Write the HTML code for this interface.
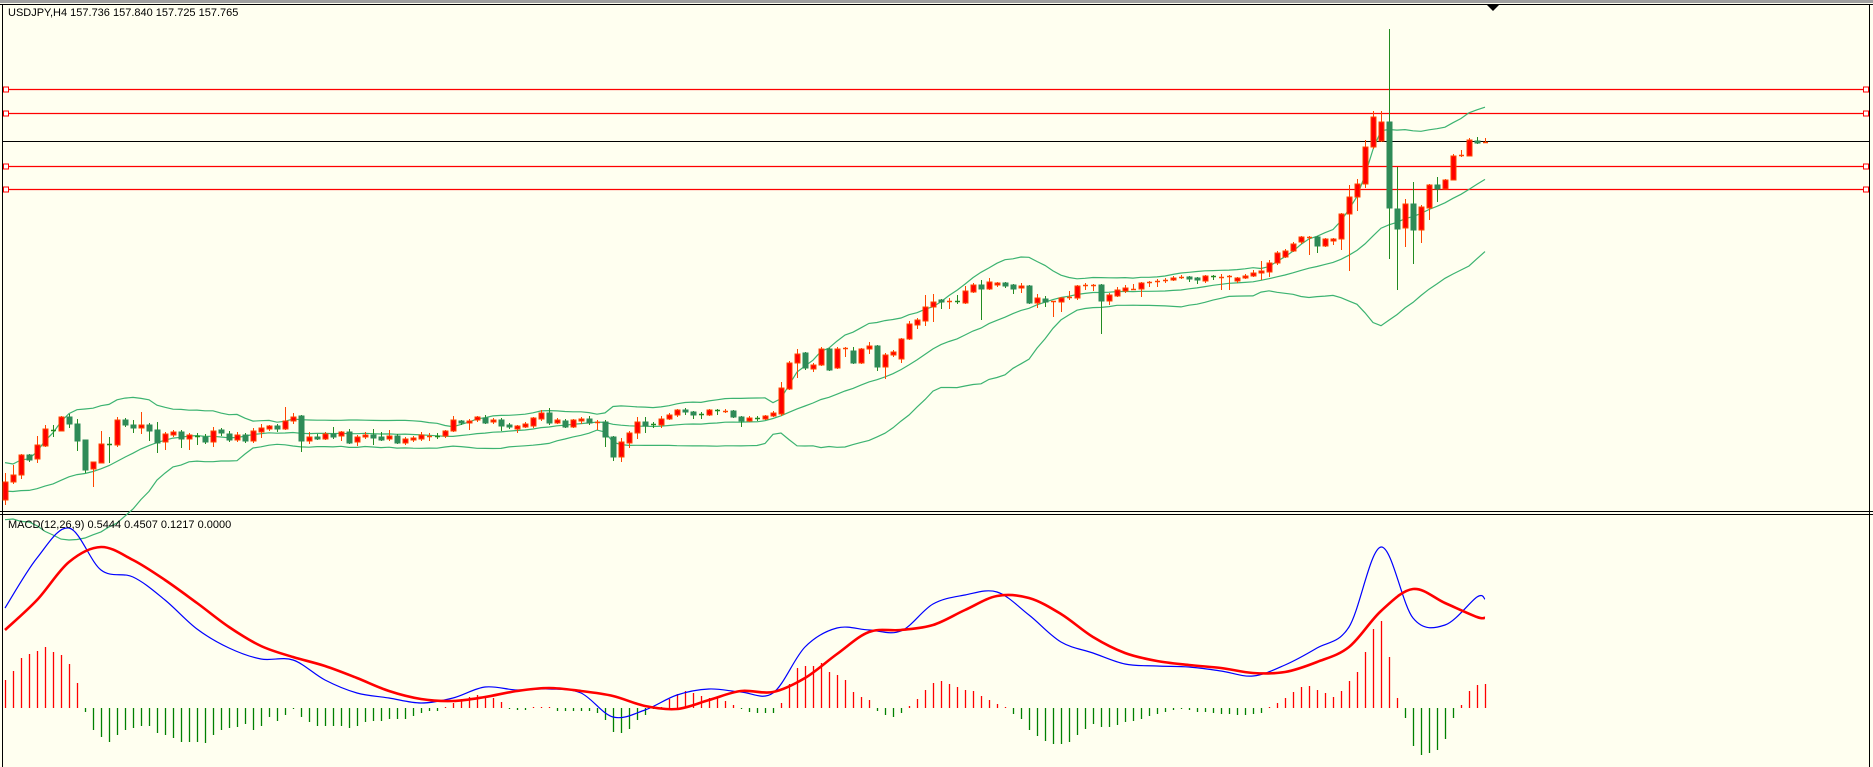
<!DOCTYPE html>
<html><head><meta charset="utf-8"><title>USDJPY H4</title>
<style>
html,body{margin:0;padding:0;background:#fffff0;}
svg{display:block;font-family:Tahoma,"Liberation Sans",sans-serif;}
</style></head>
<body>
<svg id="chart" width="1873" height="767" viewBox="0 0 1873 767" xmlns="http://www.w3.org/2000/svg">
<rect x="0" y="0" width="1873" height="767" fill="#fffff0"/>
<rect x="0" y="0" width="1873" height="3" fill="#a0a0a0"/>
<line x1="0" y1="4.5" x2="1873" y2="4.5" stroke="#000" stroke-width="1"/>
<line x1="2.5" y1="4" x2="2.5" y2="767" stroke="#000" stroke-width="1"/>
<line x1="1869.5" y1="4" x2="1869.5" y2="767" stroke="#000" stroke-width="1"/>
<line x1="0" y1="511.5" x2="1873" y2="511.5" stroke="#000" stroke-width="1"/>
<line x1="0" y1="514.5" x2="1873" y2="514.5" stroke="#000" stroke-width="1"/>
<g id="levels"></g>
<g id="bands"></g>
<g id="candles"></g>
<g id="macd"></g>
<polygon points="1487,5 1499,5 1493,11" fill="#000"/>
<text x="8" y="16" font-size="11" fill="#000">USDJPY,H4  157.736 157.840 157.725 157.765</text>
<text x="8" y="528" font-size="11" fill="#000">MACD(12,26,9) 0.5444 0.4507 0.1217 0.0000</text>
</svg>
<script>
const opens = [155.00,155.18,155.25,155.45,155.41,155.54,155.70,155.69,155.83,155.76,155.60,155.31,155.37,155.56,155.55,155.80,155.75,155.72,155.75,155.70,155.58,155.65,155.68,155.61,155.64,155.63,155.58,155.70,155.66,155.60,155.65,155.59,155.68,155.71,155.74,155.71,155.79,155.84,155.59,155.63,155.61,155.66,155.64,155.68,155.58,155.63,155.65,155.63,155.61,155.64,155.57,155.60,155.61,155.64,155.64,155.64,155.69,155.79,155.77,155.80,155.82,155.78,155.80,155.75,155.71,155.73,155.74,155.81,155.87,155.77,155.79,155.73,155.79,155.81,155.77,155.78,155.63,155.43,155.57,155.67,155.78,155.76,155.75,155.81,155.85,155.90,155.88,155.86,155.85,155.90,155.89,155.89,155.83,155.79,155.82,155.81,155.84,155.86,156.11,156.37,156.47,156.31,156.35,156.51,156.32,156.51,156.49,156.37,156.51,156.54,156.33,156.45,156.41,156.61,156.75,156.79,156.93,157.00,156.99,156.99,156.97,157.08,157.15,157.11,157.15,157.17,157.15,157.12,157.14,156.97,157.01,156.99,156.98,157.02,157.02,157.14,157.14,157.15,156.99,157.04,157.09,157.11,157.11,157.17,157.18,157.19,157.20,157.22,157.23,157.22,157.19,157.24,157.23,157.24,157.19,157.22,157.24,157.27,157.28,157.37,157.43,157.49,157.58,157.62,157.63,157.54,157.59,157.61,157.86,158.03,158.16,158.53,158.59,158.78,157.91,157.72,157.96,157.70,157.92,158.15,158.11,158.20,158.44,158.44,158.59,158.57];
const closes = [155.18,155.25,155.45,155.40,155.55,155.71,155.69,155.83,155.76,155.59,155.30,155.38,155.56,155.55,155.80,155.75,155.72,155.75,155.69,155.57,155.66,155.68,155.61,155.65,155.63,155.58,155.69,155.67,155.60,155.65,155.59,155.69,155.72,155.74,155.71,155.79,155.83,155.59,155.63,155.61,155.66,155.63,155.68,155.57,155.63,155.65,155.62,155.60,155.64,155.57,155.61,155.62,155.65,155.64,155.63,155.69,155.80,155.77,155.79,155.83,155.77,155.80,155.74,155.73,155.74,155.76,155.82,155.87,155.77,155.80,155.73,155.80,155.81,155.77,155.78,155.63,155.43,155.58,155.67,155.78,155.74,155.75,155.81,155.85,155.90,155.88,155.85,155.85,155.90,155.89,155.89,155.83,155.79,155.82,155.81,155.84,155.87,156.12,156.37,156.46,156.32,156.35,156.51,156.30,156.51,156.52,156.37,156.51,156.54,156.33,156.45,156.48,156.61,156.76,156.80,156.93,156.98,156.98,156.99,156.98,157.09,157.15,157.11,157.18,157.17,157.14,157.11,157.14,156.97,157.02,156.98,156.99,157.02,157.03,157.14,157.15,157.15,156.99,157.05,157.10,157.12,157.11,157.17,157.18,157.19,157.20,157.22,157.23,157.21,157.20,157.24,157.23,157.23,157.24,157.22,157.24,157.27,157.29,157.37,157.47,157.49,157.56,157.63,157.63,157.54,157.61,157.61,157.86,158.03,158.16,158.53,158.83,158.78,157.92,157.71,157.96,157.70,157.93,158.15,158.11,158.20,158.44,158.45,158.60,158.57,158.58];
const highs = [155.27,155.35,155.46,155.46,155.64,155.75,155.75,155.84,155.86,155.81,155.60,155.38,155.69,155.63,155.83,155.82,155.80,155.88,155.77,155.78,155.68,155.70,155.70,155.67,155.67,155.66,155.73,155.72,155.69,155.68,155.67,155.72,155.76,155.75,155.76,155.93,155.87,155.85,155.68,155.66,155.68,155.73,155.69,155.71,155.65,155.68,155.71,155.68,155.70,155.66,155.63,155.64,155.68,155.67,155.67,155.70,155.84,155.80,155.81,155.84,155.85,155.82,155.82,155.77,155.75,155.78,155.83,155.90,155.92,155.82,155.81,155.81,155.83,155.84,155.80,155.80,155.64,155.62,155.69,155.83,155.83,155.78,155.84,155.87,155.91,155.92,155.89,155.88,155.91,155.91,155.91,155.90,155.84,155.84,155.84,155.85,155.89,156.18,156.39,156.51,156.48,156.37,156.53,156.52,156.53,156.53,156.53,156.52,156.58,156.55,156.47,156.50,156.62,156.79,156.82,157.05,157.06,157.01,157.02,157.05,157.14,157.17,157.20,157.22,157.18,157.18,157.16,157.17,157.15,157.06,157.04,156.99,157.03,157.09,157.15,157.17,157.16,157.16,157.07,157.13,157.15,157.16,157.18,157.19,157.21,157.22,157.24,157.25,157.24,157.23,157.25,157.25,157.26,157.25,157.23,157.26,157.30,157.39,157.40,157.49,157.51,157.58,157.64,157.64,157.64,157.62,157.62,157.87,158.15,158.21,158.60,158.89,158.89,159.71,158.33,158.01,158.18,157.95,158.16,158.23,158.21,158.46,158.50,158.62,158.63,158.62];
const lows = [154.95,155.16,155.21,155.38,155.37,155.53,155.63,155.69,155.72,155.49,155.27,155.13,155.37,155.37,155.53,155.73,155.67,155.66,155.59,155.47,155.50,155.63,155.52,155.50,155.55,155.56,155.53,155.64,155.58,155.58,155.57,155.57,155.62,155.69,155.68,155.70,155.76,155.48,155.56,155.60,155.60,155.61,155.59,155.56,155.54,155.61,155.55,155.59,155.59,155.56,155.55,155.58,155.59,155.59,155.61,155.62,155.68,155.75,155.70,155.78,155.76,155.76,155.69,155.71,155.67,155.72,155.72,155.79,155.75,155.76,155.72,155.72,155.76,155.75,155.70,155.53,155.39,155.38,155.52,155.61,155.67,155.72,155.72,155.80,155.83,155.85,155.81,155.81,155.84,155.85,155.87,155.82,155.73,155.78,155.79,155.80,155.83,155.84,156.10,156.22,156.30,156.28,156.34,156.29,156.31,156.43,156.36,156.36,156.46,156.29,156.21,156.43,156.37,156.60,156.71,156.74,156.78,156.91,156.91,156.96,156.96,157.07,156.80,157.10,157.13,157.12,157.06,157.07,156.96,156.92,156.93,156.83,156.88,157.00,157.00,157.10,157.09,156.66,156.95,157.03,157.07,157.10,157.03,157.13,157.13,157.17,157.19,157.21,157.18,157.16,157.17,157.20,157.10,157.10,157.17,157.21,157.23,157.20,157.23,157.35,157.42,157.48,157.56,157.45,157.47,157.53,157.55,157.50,157.29,157.89,158.12,158.51,158.58,157.41,157.10,157.53,157.36,157.57,157.80,157.98,158.15,158.34,158.43,158.52,158.56];
// closes of the 19 bars before the visible window (needed for the 20-period bands)
const priorCloses = [155.32,155.28,155.35,155.22,155.18,155.25,155.12,155.05,155.15,155.08,154.98,155.02,154.92,154.96,154.88,154.94,154.90,155.02,154.97];
const levelPrices = [159.11,158.87,158.34,158.11];
// MACD lines sampled every 4 bars (last sample = last bar)
const macdMain = [0.50,0.75,0.90,0.69,0.655,0.54,0.395,0.30,0.245,0.24,0.14,0.075,0.05,0.025,0.05,0.105,0.09,0.095,0.075,-0.045,-0.01,0.065,0.095,0.08,0.075,0.305,0.40,0.39,0.385,0.52,0.565,0.58,0.465,0.33,0.275,0.22,0.21,0.205,0.185,0.16,0.215,0.30,0.405,0.805,0.45,0.415,0.555,0.544];
const macdSignal = [0.39,0.54,0.73,0.805,0.74,0.64,0.525,0.405,0.31,0.255,0.21,0.15,0.085,0.045,0.035,0.055,0.085,0.10,0.085,0.06,0.01,-0.005,0.04,0.085,0.08,0.15,0.27,0.38,0.39,0.415,0.49,0.56,0.55,0.47,0.355,0.275,0.235,0.215,0.20,0.175,0.18,0.23,0.305,0.485,0.595,0.525,0.455,0.451];
const macdHist = [0.14,0.185,0.25,0.27,0.285,0.305,0.28,0.265,0.22,0.125,
-0.02,-0.11,-0.145,-0.17,-0.135,-0.11,-0.1,-0.09,-0.09,-0.125,
-0.135,-0.15,-0.17,-0.17,-0.17,-0.175,-0.135,-0.11,-0.1,-0.095,
-0.08,-0.11,-0.09,-0.045,-0.065,-0.035,-0.005,-0.045,-0.07,-0.09,
-0.09,-0.09,-0.09,-0.1,-0.09,-0.07,-0.065,-0.065,-0.055,-0.055,
-0.055,-0.04,-0.025,-0.015,-0.015,0,0.025,0.045,0.055,0.065,
0.055,0.05,0.03,-0.005,-0.01,-0.01,0.005,0,0,-0.015,
-0.015,-0.015,-0.015,-0.015,-0.025,-0.06,-0.12,-0.125,-0.105,-0.06,
-0.035,-0.005,0,0.045,0.07,0.085,0.075,0.06,0.05,0.055,
0.035,0.015,-0.005,-0.02,-0.025,-0.025,-0.025,0.025,0.12,0.2,
0.21,0.21,0.225,0.18,0.165,0.14,0.08,0.055,0.04,-0.015,
-0.035,-0.045,-0.025,0.01,0.045,0.09,0.125,0.135,0.12,0.105,
0.09,0.085,0.06,0.04,0.02,0,-0.03,-0.055,-0.11,-0.14,
-0.165,-0.18,-0.18,-0.17,-0.135,-0.105,-0.08,-0.095,-0.095,-0.085,
-0.07,-0.065,-0.055,-0.04,-0.03,-0.02,-0.01,-0.005,-0.01,-0.02,
-0.02,-0.025,-0.03,-0.03,-0.035,-0.035,-0.03,-0.025,0,0.025,
0.05,0.08,0.105,0.11,0.09,0.075,0.055,0.085,0.135,0.18,
0.28,0.395,0.435,0.255,0.05,-0.05,-0.19,-0.235,-0.225,-0.21,
-0.155,-0.05,0.015,0.085,0.115,0.12];

const NS = 'http://www.w3.org/2000/svg';
const BAR_X0 = 5, BAR_STEP = 8, PRICE_TOP = 160, PX_PER_PRICE = 100;
const MACD_ZERO = 708, PX_PER_MACD = 200, MACD_STEP = 4;
function xScale(i){ return BAR_X0 + BAR_STEP * i; }
function yScale(p){ return (PRICE_TOP - p) * PX_PER_PRICE; }
function yMacd(v){ return MACD_ZERO - v * PX_PER_MACD; }
function mk(tag, attrs, parent){
  const el = document.createElementNS(NS, tag);
  for (const k in attrs) el.setAttribute(k, attrs[k]);
  parent.appendChild(el);
  return el;
}
const gLevels = document.getElementById('levels');
levelPrices.forEach((p, k) => {
  const y = Math.round(yScale(p)) + 0.5;
  const ln = mk('line', {x1: 3, x2: 1869, y1: y, y2: y, stroke: '#ff0000', 'stroke-width': 1.3}, gLevels);
  
  
  [6, 1866].forEach(cx => {
    const sq = mk('rect', {x: cx - 2.5, y: y - 2.5, width: 5, height: 5, fill: '#ffffff', stroke: '#ff0000', 'stroke-width': 1}, gLevels);
    
    
  });
});
const lastClose = closes[closes.length - 1];
const by = Math.round(yScale(lastClose)) - 0.5;
const bid = mk('line', {x1: 3, x2: 1869, y1: by, y2: by, stroke: '#000', 'stroke-width': 1}, gLevels);



// Bollinger bands (20, 2)
const allCloses = priorCloses.concat(closes);
const up = [], mid = [], lo = [];
for (let i = 0; i < closes.length; i++){
  const end = i + priorCloses.length;
  const start = Math.max(0, end - 19);
  const w = allCloses.slice(start, end + 1);
  const m = w.reduce((a, b) => a + b, 0) / w.length;
  const sd = Math.sqrt(w.reduce((a, b) => a + (b - m) * (b - m), 0) / w.length);
  mid.push(m); up.push(m + 2 * sd); lo.push(m - 2 * sd);
}
const gBands = document.getElementById('bands');
[[up, 'bb-upper-band'], [mid, 'bb-middle-band'], [lo, 'bb-lower-band']].forEach(([arr, nm]) => {
  const pts = arr.map((v, i) => xScale(i) + ',' + yScale(v).toFixed(1)).join(' ');
  const pl = mk('polyline', {points: pts, fill: 'none', stroke: '#3cb371', 'stroke-width': 1.2}, gBands);
  
  
});

// Candles
const gC = document.getElementById('candles');
for (let i = 0; i < closes.length; i++){
  const x = xScale(i);
  const o = isFinite(opens[i]) ? opens[i] : closes[i];
  const c = closes[i];
  const hi = isFinite(highs[i]) ? Math.max(highs[i], o, c) : Math.max(o, c);
  const lw = isFinite(lows[i]) ? Math.min(lows[i], o, c) : Math.min(o, c);
  const bull = c >= o;
  const wickCol = bull ? '#ff4500' : '#228b22';
  const g = mk('g', {}, gC);
  
  
  mk('line', {x1: x + 0.5, x2: x + 0.5, y1: yScale(hi), y2: yScale(lw), stroke: wickCol, 'stroke-width': 1}, g);
  const yt = yScale(Math.max(o, c)), yb = yScale(Math.min(o, c));
  if (yb - yt < 1.5){
    mk('line', {x1: x - 2, x2: x + 3, y1: Math.round(yt) + 0.5, y2: Math.round(yt) + 0.5, stroke: wickCol, 'stroke-width': 1.5}, g);
  } else {
    mk('rect', {x: x - 2, y: yt, width: 5, height: yb - yt, fill: bull ? '#ff0000' : '#2e8b57', stroke: bull ? '#ff4500' : '#2e8b57', 'stroke-width': 1}, g);
  }
}

// MACD
const gM = document.getElementById('macd');
const last = closes.length - 1;
for (let i = 0; i < macdHist.length; i++){
  const v = macdHist[i];
  const x = xScale(i) + 0.5;
  const bar = mk('line', {x1: x, x2: x, y1: MACD_ZERO, y2: yMacd(v) + (v === 0 ? -1 : 0), stroke: v >= 0 ? '#ff0000' : '#008000', 'stroke-width': 1.3}, gM);
  
  
}
function lineFrom(arr, color, w, nm){
  const P = arr.map((v, j) => [xScale(Math.min(j * MACD_STEP, last)), yMacd(v)]);
  let d = 'M' + P[0][0] + ',' + P[0][1].toFixed(1);
  for (let k = 0; k < P.length - 1; k++){
    const p0 = P[Math.max(0, k - 1)], p1 = P[k], p2 = P[k + 1], p3 = P[Math.min(P.length - 1, k + 2)];
    const c1x = p1[0] + (p2[0] - p0[0]) / 6, c1y = p1[1] + (p2[1] - p0[1]) / 6;
    const c2x = p2[0] - (p3[0] - p1[0]) / 6, c2y = p2[1] - (p3[1] - p1[1]) / 6;
    d += ' C' + c1x.toFixed(1) + ',' + c1y.toFixed(1) + ' ' + c2x.toFixed(1) + ',' + c2y.toFixed(1) + ' ' + p2[0] + ',' + p2[1].toFixed(1);
  }
  const pl = mk('path', {d: d, fill: 'none', stroke: color, 'stroke-width': w, 'stroke-linejoin': 'round'}, gM);
  
  
}
lineFrom(macdMain, '#0000ff', 1.2, 'macd-main-line');
lineFrom(macdSignal, '#ff0000', 2.6, 'macd-signal-line');
</script>
</body></html>
